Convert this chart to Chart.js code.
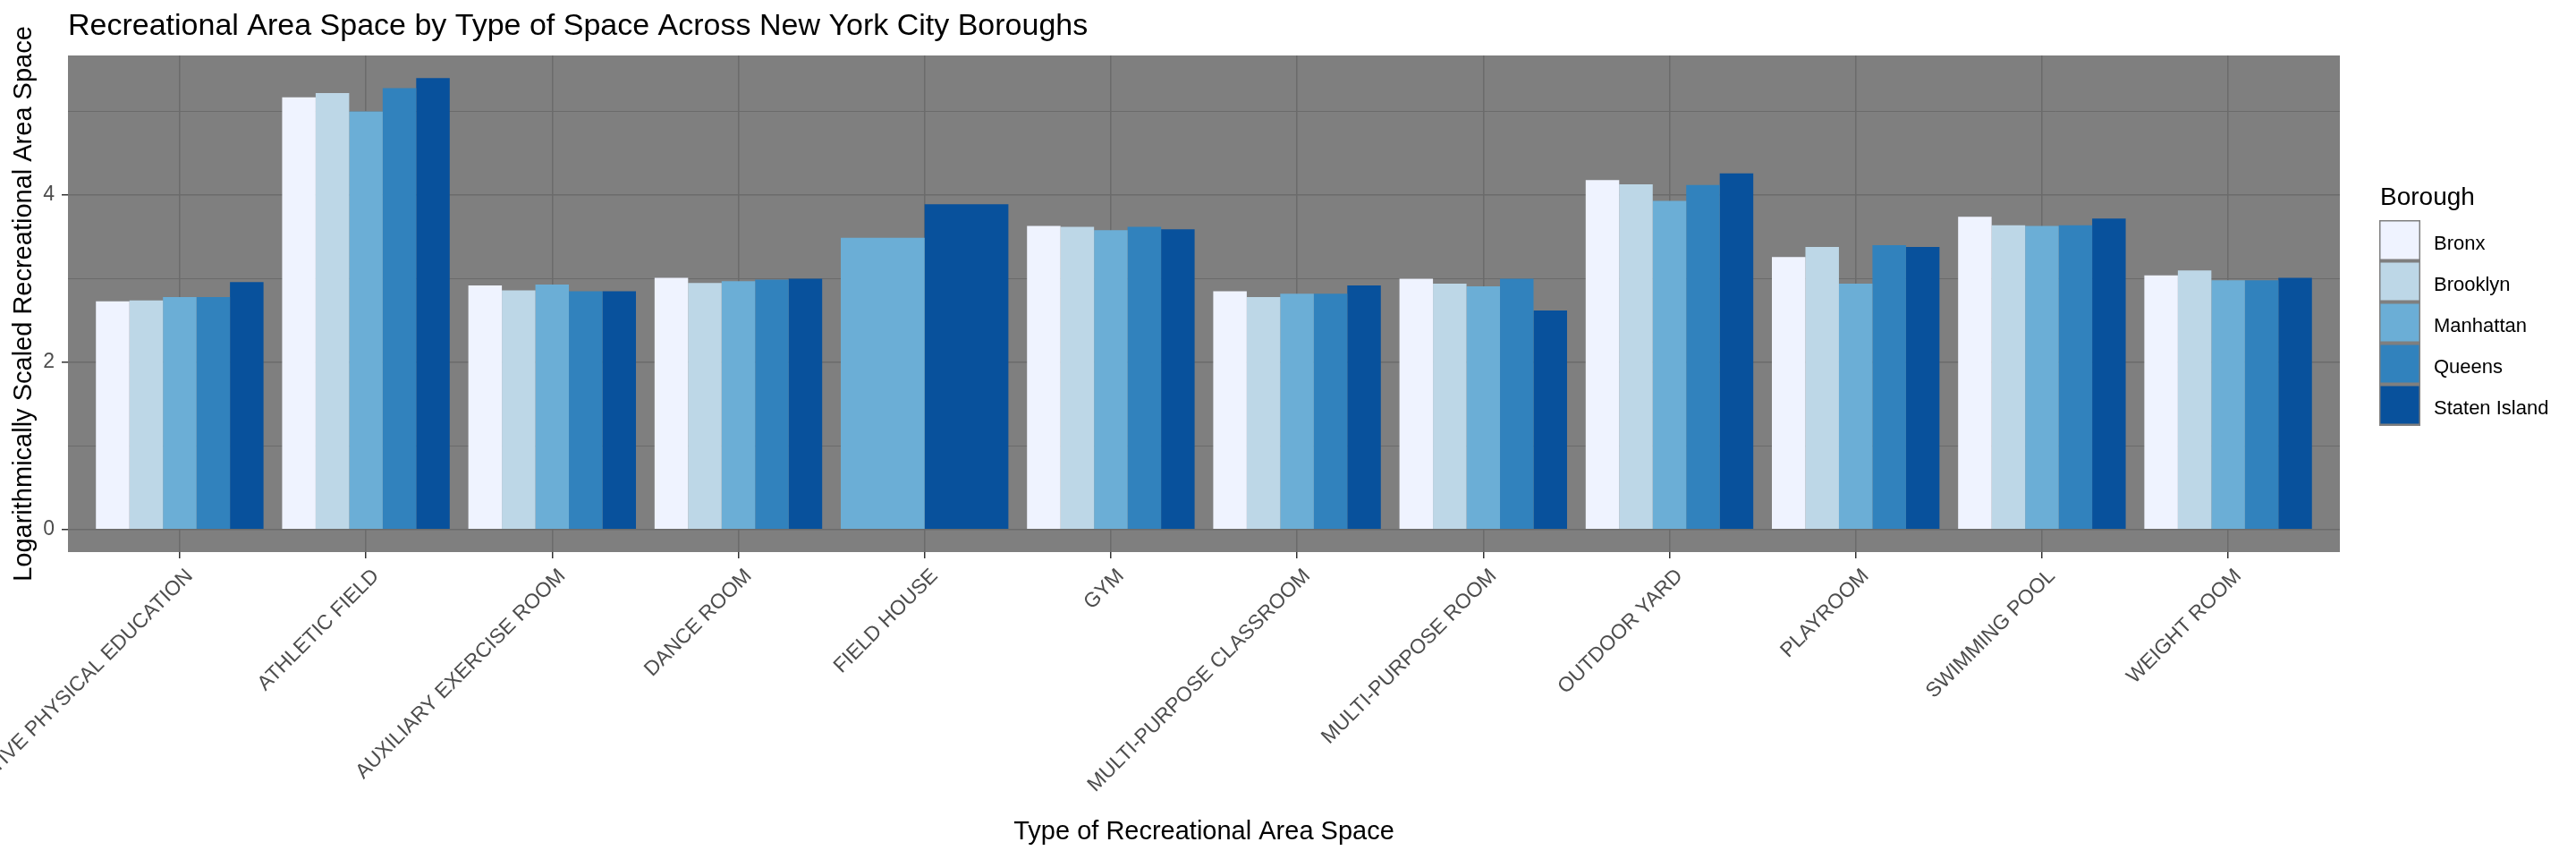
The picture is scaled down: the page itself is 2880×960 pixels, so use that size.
<!DOCTYPE html>
<html>
<head>
<meta charset="utf-8">
<script src="https://cdn.jsdelivr.net/npm/chart.js@4.4.1/dist/chart.umd.min.js"></script>
<style>
html,body{margin:0;padding:0;background:#ffffff;}
#wrap{width:2880px;height:960px;position:relative;}
</style>
</head>
<body>
<div id="wrap"><canvas id="c" width="2880" height="960"></canvas></div>
<script>
// ---------------- data ----------------
const categories = ["ADAPTIVE PHYSICAL EDUCATION","ATHLETIC FIELD","AUXILIARY EXERCISE ROOM","DANCE ROOM","FIELD HOUSE","GYM","MULTI-PURPOSE CLASSROOM","MULTI-PURPOSE ROOM","OUTDOOR YARD","PLAYROOM","SWIMMING POOL","WEIGHT ROOM"];
const boroughs = ["Bronx","Brooklyn","Manhattan","Queens","Staten Island"];
const bronx        = [2.73, 5.17, 2.92, 3.01, null, 3.63, 2.85, 3.00, 4.18, 3.26, 3.74, 3.04];
const brooklyn     = [2.74, 5.22, 2.86, 2.95, null, 3.62, 2.78, 2.94, 4.13, 3.38, 3.64, 3.10];
const manhattan    = [2.78, 5.00, 2.93, 2.97, 3.49, 3.58, 2.82, 2.91, 3.93, 2.94, 3.63, 2.98];
const queens       = [2.78, 5.28, 2.85, 2.99, null, 3.62, 2.82, 3.00, 4.12, 3.40, 3.64, 2.98];
const statenIsland = [2.96, 5.40, 2.85, 3.00, 3.89, 3.59, 2.92, 2.62, 4.26, 3.38, 3.72, 3.01];
const yGridValues  = [0, 1, 2, 3, 4, 5];
const yTickLabels  = [0, 2, 4];

// ---------------- styles ----------------
const seriesValues = [bronx, brooklyn, manhattan, queens, statenIsland];
const colors = ["#EFF3FF", "#BDD7E7", "#6BAED6", "#3182BD", "#08519C"];
const FONT = "'Liberation Sans', Arial, Helvetica, sans-serif";

const allVals = seriesValues.flat().filter(v => v !== null);
const dataMax = Math.max(...allVals);
const yMin = -0.05 * dataMax;
const yMax = dataMax * 1.05;

const datasets = boroughs.map((b, k) => ({
  label: b,
  data: categories.map((c, i) => ({ x: i, y: seriesValues[k][i] })),
  backgroundColor: colors[k],
  borderWidth: 0,
  skipNull: true,
  categoryPercentage: 0.9,
  barPercentage: 1.0
}));

const panelPlugin = {
  id: 'panel',
  beforeDraw(chart) {
    const { ctx, chartArea: a } = chart;
    ctx.save();
    ctx.fillStyle = '#ffffff';
    ctx.fillRect(0, 0, chart.width, chart.height);
    ctx.fillStyle = '#7F7F7F';
    ctx.fillRect(a.left, a.top, a.right - a.left, a.bottom - a.top);
    ctx.restore();
  },
  afterDraw(chart) {
    const { ctx } = chart;
    const xs = chart.scales.x;
    // x tick labels, rotated 45 degrees
    ctx.save();
    ctx.font = '23px ' + FONT;
    ctx.fillStyle = '#4D4D4D';
    categories.forEach((c, i) => {
      const px = xs.getPixelForValue(i);
      ctx.save();
      ctx.translate(px + 4, 633);
      ctx.rotate(-Math.PI / 4);
      ctx.textAlign = 'right';
      ctx.textBaseline = 'alphabetic';
      ctx.fillText(c, 0, 16.5);
      ctx.restore();
    });
    ctx.restore();

    // legend
    ctx.save();
    ctx.fillStyle = '#000000';
    ctx.font = '28px ' + FONT;
    ctx.textAlign = 'left';
    ctx.textBaseline = 'alphabetic';
    ctx.fillText('Borough', 2661, 229);
    ctx.fillStyle = '#7F7F7F';
    ctx.fillRect(2660, 246, 46, 230);
    ctx.font = '22px ' + FONT;
    boroughs.forEach((b, k) => {
      ctx.fillStyle = colors[k];
      ctx.fillRect(2661.5, 247.5 + 46 * k, 43, 42);
      ctx.fillStyle = '#000000';
      ctx.fillText(b, 2721, 279 + 46 * k);
    });
    ctx.restore();
  }
};

new Chart(document.getElementById('c'), {
  type: 'bar',
  data: { datasets },
  plugins: [panelPlugin],
  options: {
    responsive: false,
    devicePixelRatio: 1,
    animation: false,
    layout: { padding: { left: 0, top: 0, right: 264, bottom: 0 } },
    plugins: {
      legend: { display: false },
      tooltip: { enabled: false },
      title: {
        display: true,
        text: 'Recreational Area Space by Type of Space Across New York City Boroughs',
        align: 'start',
        fullSize: false,
        color: '#000000',
        font: { family: FONT, size: 34, weight: 'normal' },
        padding: { top: 8.8, bottom: 12.4 }
      }
    },
    scales: {
      x: {
        type: 'linear',
        offset: false,
        min: -0.6,
        max: categories.length - 0.4,
        afterBuildTicks: s => { s.ticks = categories.map((c, i) => ({ value: i })); },
        ticks: { display: false },
        grid: { offset: false, color: '#6B6B6B', lineWidth: 1.5, tickLength: 7, tickColor: '#333333', tickWidth: 1.5 },
        border: { display: false },
        title: {
          display: true,
          text: 'Type of Recreational Area Space',
          color: '#000000',
          font: { family: FONT, size: 29 },
          padding: { top: 0, bottom: 12.6 }
        },
        afterFit: s => { s.height = 343; s.paddingLeft = 0; s.paddingRight = 0; }
      },
      y: {
        min: yMin,
        max: yMax,
        afterBuildTicks: s => { s.ticks = yGridValues.map(v => ({ value: v })); },
        ticks: {
          callback: v => (yTickLabels.includes(v) ? String(v) : ''),
          color: '#4D4D4D',
          font: { family: FONT, size: 23 },
          padding: 8
        },
        grid: {
          color: '#6B6B6B',
          lineWidth: c => (c.tick && yTickLabels.includes(c.tick.value)) ? 1.5 : 1,
          tickLength: 7,
          tickWidth: 1.5,
          tickColor: c => (c.tick && yTickLabels.includes(c.tick.value)) ? '#333333' : 'rgba(0,0,0,0)'
        },
        border: { display: false },
        title: {
          display: true,
          text: 'Logarithmically Scaled Recreational Area Space',
          color: '#000000',
          font: { family: FONT, size: 29 },
          padding: { top: 9.1, bottom: 0 }
        },
        afterFit: s => { s.width = 76; }
      }
    }
  }
});
</script>
</body>
</html>
